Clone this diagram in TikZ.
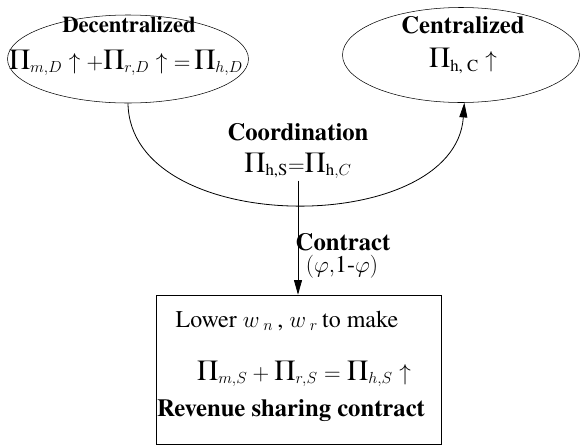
\documentclass[tikz,border=0pt]{standalone}
\usepackage{amsmath}
\usepackage{fontspec}
\setmainfont{texgyretermes}[
  Extension=.otf,
  UprightFont=*-regular,
  BoldFont=*-bold,
  ItalicFont=*-italic,
  BoldItalicFont=*-bolditalic]
\usepackage{tikz}
\usetikzlibrary{shapes.geometric, arrows.meta}

\newcommand{\PiT}{\mbox{\fontsize{22}{23}\selectfont Π}}

\tikzset{
  big/.style={font=\fontsize{18}{21}\selectfont},
  bigbold/.style={font=\fontsize{18.5}{21}\selectfont\bfseries},
  tip/.style={-{Triangle[length=11pt,width=6pt]}, line width=0.6pt}
}

\begin{document}
\begin{tikzpicture}[x=0.75pt,y=0.75pt,yscale=-1,xscale=1]
\useasboundingbox (0,0) rectangle (582,447);

%Shape: Ellipse [id:dec]
\node [draw, ellipse, minimum width=180.75pt, minimum height=66pt, inner sep=0pt] (dec) at (128,59) {};
%Shape: Ellipse [id:cen]
\node [draw, ellipse, minimum width=177.75pt, minimum height=71.25pt, inner sep=0pt] (cen) at (461,55) {};
%Shape: Rectangle [id:rsc]
\node [draw, rectangle, minimum width=213.75pt, minimum height=111.75pt, inner sep=0pt] (rsc) at (298.5,369.5) {};

% Text Node
\node [bigbold, font=\fontsize{17}{20}\selectfont\bfseries] (decT) at (129,25) {Decentralized};
% Text Node
\node [big] (decF) at (126,63) {$\PiT_{m,D}\uparrow{+}\PiT_{r,D}\uparrow{=}\,\PiT_{h,D}$};
% Text Node
\node [bigbold] (cenT) at (463,25) {Centralized};
% Text Node
\node [big] (cenF) at (463,61) {$\PiT_{\text{h,\ C}}\uparrow$};
% Text Node
\node [bigbold] (coT) at (298,132) {Coordination};
% Text Node
\node [big, inner sep=1pt] (coF) at (298,166) {$\PiT_{\text{h,S}}{=}\PiT_{\text{h},C}$};
% Text Node
\node [bigbold] (ctT) at (343,242) {Contract};
% Text Node
\node [big] (ctF) at (342,267) {$(\varphi{,}\text{1-}\varphi)$};
% Text Node
\node [big] (lowT) at (287,321) {Lower $w_{\;n}$\,, $w_{\;r}$\,to make};
% Text Node
\node [big] (rscF) at (304,374) {$\PiT_{m,S}+\PiT_{r,S}=\PiT_{h,S}\uparrow$};
% Text Node
\node [bigbold] (rscT) at (291,411) {Revenue sharing contract};

%Curve Lines [id:coordarc]
\draw [tip] (dec.south) .. controls (130,238) and (455,238) .. (cen.-86);
%Straight Lines [id:contract]
\draw [tip] (coF.south) -- (rsc.north -| coF.south);

\end{tikzpicture}
\end{document}
